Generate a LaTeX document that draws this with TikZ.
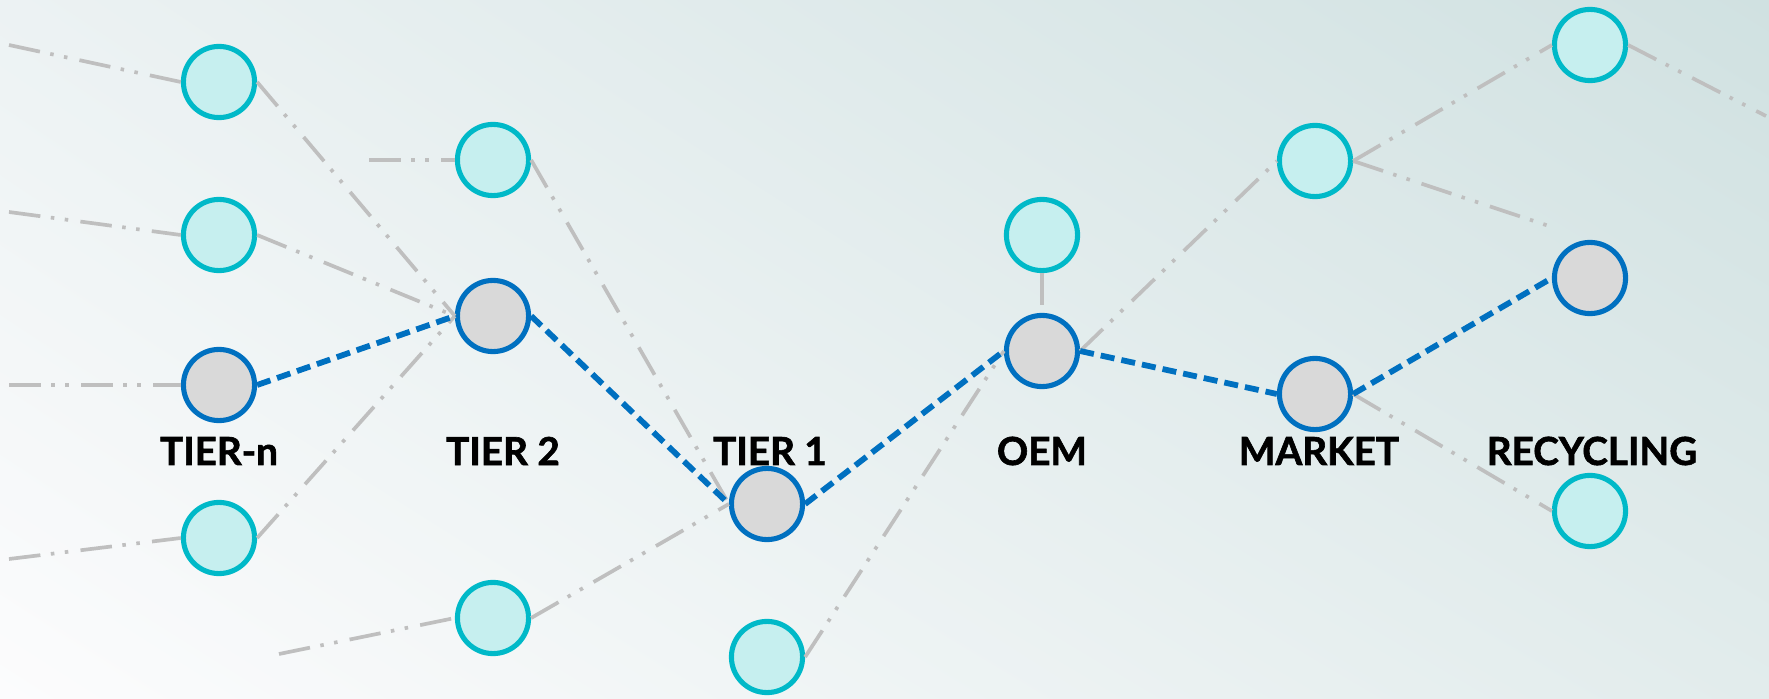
\documentclass[tikz,border=0pt]{standalone}
\usepackage{fontspec}
\setmainfont{Lato}
\newfontfamily\tierfont{Lato}[BoldFeatures={FakeBold=1.6}]
\usetikzlibrary{backgrounds, shadings}

\definecolor{leaffill}{HTML}{C6EFEF}
\definecolor{leafdraw}{HTML}{00B9C8}
\definecolor{hubfill}{HTML}{D9D9D9}
\definecolor{hubdraw}{HTML}{0070C0}
\definecolor{linkgray}{HTML}{BFBFBF}
\definecolor{bgtl}{HTML}{ECF2F3}
\definecolor{bgtr}{HTML}{D0E1E1}
\definecolor{bgbl}{HTML}{FCFCFD}
\definecolor{bgbr}{HTML}{E2ECEC}

\begin{document}
\begin{tikzpicture}[
    x=0.02cm, y=-0.02cm,
    leaf/.style={circle, draw=leafdraw, fill=leaffill, line width=2.9pt,
                 minimum size=40.5pt, inner sep=0pt},
    hub/.style={leaf, draw=hubdraw, fill=hubfill},
    tier/.style={font=\tierfont\fontsize{22}{26}\selectfont\bfseries, text=black},
    link/.style={draw=linkgray, line width=2.1pt,
                 dash pattern=on 18pt off 6pt on 2pt off 6pt on 2pt off 7pt},
    route/.style={draw=hubdraw, line width=3.3pt, dash pattern=on 8pt off 4pt},
]
\useasboundingbox (0,0) rectangle (1769,699);
\begin{scope}[on background layer]
  \shade[upper left=bgtl, upper right=bgtr, lower left=bgbl, lower right=bgbr]
    (0,0) rectangle (1769,699);
\end{scope}

% tier-n
\node[leaf] (n1) at (219,82) {};
\node[leaf] (n2) at (219,235) {};
\node[hub]  (n3) at (219,385) {};
\node[leaf] (n4) at (219,538) {};
% tier 2
\node[leaf] (t2a) at (493,160) {};
\node[hub]  (t2b) at (493,316) {};
\node[leaf] (t2c) at (493,618) {};
% tier 1
\node[hub]  (t1a) at (767,504) {};
\node[leaf] (t1b) at (767,657) {};
% oem
\node[leaf] (oema) at (1042,235) {};
\node[hub]  (oemb) at (1042,351) {};
% market
\node[leaf] (mkta) at (1315,161) {};
\node[hub]  (mktb) at (1315,394) {};
% recycling
\node[leaf] (reca) at (1590,45) {};
\node[hub]  (recb) at (1590,278) {};
\node[leaf] (recc) at (1590,511) {};

\node[tier] (lbln)   at (219,451)  {TIER-n};
\node[tier] (lbl2)   at (503,451)  {TIER 2};
\node[tier] (lbl1)   at (770,451)  {TIER 1};
\node[tier] (lbloem) at (1042,451) {OEM};
\node[tier] (lblmkt) at (1319,451) {MARKET};
\node[tier] (lblrec) at (1592,451) {RECYCLING};

% loose ends
\coordinate (in1) at (9,45);
\coordinate (in2) at (9,212);
\coordinate (in3) at (9,385);
\coordinate (in4) at (9,559);
\coordinate (in5) at (369,160);
\coordinate (in6) at (279,654);
\coordinate (out1) at (1555,228);
\coordinate (out2) at (1766,116);

% side links
\draw[link] (in1) -- (n1.west);
\draw[link] (in2) -- (n2.west);
\draw[link] (in3) -- (n3.west);
\draw[link] (in4) -- (n4.west);
\draw[link] (in5) -- (t2a.west);
\draw[link] (in6) -- (t2c.west);
\draw[link] (n1.east) -- (t2b.west);
\draw[link] (n2.east) -- (t2b.west);
\draw[link] (n4.east) -- (t2b.west);
\draw[link] (t2a.east) -- (t1a.west);
\draw[link] (t2c.east) -- (t1a.west);
\draw[link] (t1b.east) -- (oemb.west);
\draw[link] (oema.south) -- (oemb.north);
\draw[link] (oemb.east) -- (mkta.west);
\draw[link] (mkta.east) -- (reca.west);
\draw[link] (mkta.east) -- (out1);
\draw[link] (reca.east) -- (out2);
\draw[link] (mktb.east) -- (recc.west);

% main chain
\draw[route] (n3.east) -- (t2b.west);
\draw[route] (t2b.east) -- (t1a.west);
\draw[route] (t1a.east) -- (oemb.west);
\draw[route] (oemb.east) -- (mktb.west);
\draw[route] (mktb.east) -- (recb.west);
\end{tikzpicture}
\end{document}
